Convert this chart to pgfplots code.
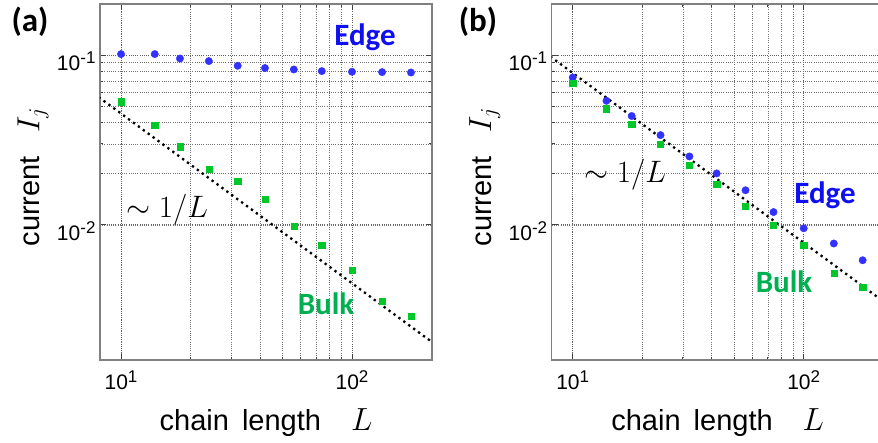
\RequirePackage{fix-cm}
\documentclass[border=0pt]{standalone}
\usepackage{fontspec}
\usepackage{pgfplots}
\pgfplotsset{compat=1.18}
\newfontfamily\arial{Liberation Sans}
\newfontfamily\calibri{Carlito}
\definecolor{edgeblue}{RGB}{15,15,240}
\definecolor{markblue}{RGB}{50,50,255}
\definecolor{bulkgreen}{RGB}{0,176,80}
\definecolor{markgreen}{RGB}{0,200,40}
\newcommand{\tsup}[1]{\raisebox{7pt}{\fontsize{17}{17}\selectfont #1}}

\pgfplotstableread{
L     edge     bulk
10    0.1014   0.0531
14    0.1014   0.0386
18    0.0955   0.0289
24    0.0922   0.0212
32    0.0865   0.0180
42    0.0839   0.0142
56    0.0823   0.00982
74    0.0805   0.00762
100   0.0798   0.00538
135   0.0794   0.00356
180   0.0790   0.00290
}\dataA

\pgfplotstableread{
L     edge     bulk
10    0.0738   0.0681
14    0.0538   0.0483
18    0.0438   0.0391
24    0.0338   0.0299
32    0.0253   0.0224
42    0.0201   0.0174
56    0.0160   0.0129
74    0.0119   0.0100
100   0.00955  0.00759
135   0.00777  0.00519
180   0.00619  0.00430
}\dataB

\begin{document}
\begin{tikzpicture}
\useasboundingbox (0,0) rectangle (878pt,442pt);

\begin{loglogaxis}[
  at={(100pt,82pt)}, anchor=south west,
  scale only axis, width=332pt, height=356pt,
  xmin=8.11, xmax=222, ymin=0.0016, ymax=0.2,
  xtick={10,100}, xticklabels={{10\tsup{1}},{10\tsup{2}}},
  ytick={0.01,0.1}, yticklabels={{10\tsup{-2}},{10\tsup{-1}}},
  tick label style={font=\arial\fontsize{21}{23}\selectfont},
  grid=both,
  major grid style={black!62, line width=0.9pt, dash pattern=on 1pt off 1.2pt},
  minor grid style={black!55, line width=0.75pt, dash pattern=on 0.9pt off 1.3pt},
  axis line style={gray, line width=1.5pt},
  tick style={gray!50!black, line width=1pt},
  major tick length=6pt, minor tick length=3pt,
  xticklabel style={yshift=-7pt},
  yticklabel style={xshift=-1pt, yshift=-6pt},
  label style={font=\arial\fontsize{29}{32}\selectfont},
  xlabel={chain\hspace{0.45em}length\hspace{30pt}{\fontsize{32}{34}\selectfont$L$}},
  ylabel={current\hspace{24pt}{\fontsize{32}{34}\selectfont$I_j$}},
  xlabel style={at={(axis description cs:0.5,-0.199)}, anchor=base},
  ylabel style={at={(axis description cs:-0.202,0.514)}, anchor=center},
  /pgf/number format/assume math mode=true
]
\addplot[black, line width=2.3pt, dash pattern=on 2.3pt off 3.8pt] coordinates {(8,0.0566) (230,0.00197)};
\addplot[only marks, mark=*, mark size=3.7pt, markblue, mark options={draw=markblue, fill=markblue}] table[x=L, y=edge] {\dataA};
\addplot[only marks, mark=square*, mark size=3.1pt, markgreen, mark options={draw=markgreen, fill=markgreen}] table[x=L, y=bulk] {\dataA};
\end{loglogaxis}

\begin{loglogaxis}[
  at={(551.7pt,82pt)}, anchor=south west,
  scale only axis, width=332pt, height=356pt,
  xmin=8.11, xmax=222, ymin=0.0016, ymax=0.2,
  xtick={10,100}, xticklabels={{10\tsup{1}},{10\tsup{2}}},
  ytick={0.01,0.1}, yticklabels={{10\tsup{-2}},{10\tsup{-1}}},
  tick label style={font=\arial\fontsize{21}{23}\selectfont},
  grid=both,
  major grid style={black!62, line width=0.9pt, dash pattern=on 1pt off 1.2pt},
  minor grid style={black!55, line width=0.75pt, dash pattern=on 0.9pt off 1.3pt},
  axis line style={gray, line width=1.5pt},
  tick style={gray!50!black, line width=1pt},
  major tick length=6pt, minor tick length=3pt,
  xticklabel style={yshift=-7pt},
  yticklabel style={xshift=-1pt, yshift=-6pt},
  label style={font=\arial\fontsize{29}{32}\selectfont},
  xlabel={chain\hspace{0.45em}length\hspace{30pt}{\fontsize{32}{34}\selectfont$L$}},
  ylabel={current\hspace{24pt}{\fontsize{32}{34}\selectfont$I_j$}},
  xlabel style={at={(axis description cs:0.5,-0.199)}, anchor=base},
  ylabel style={at={(axis description cs:-0.202,0.514)}, anchor=center},
  /pgf/number format/assume math mode=true
]
\addplot[black, line width=2.3pt, dash pattern=on 2.3pt off 3.8pt] coordinates {(8,0.0981) (230,0.00341)};
\addplot[only marks, mark=*, mark size=3.7pt, markblue, mark options={draw=markblue, fill=markblue}] table[x=L, y=edge] {\dataB};
\addplot[only marks, mark=square*, mark size=3.1pt, markgreen, mark options={draw=markgreen, fill=markgreen}] table[x=L, y=bulk] {\dataB};
\end{loglogaxis}

\node[font=\calibri\bfseries\fontsize{33}{35}\selectfont] at (30pt,420pt) {(a)};
\node[font=\calibri\bfseries\fontsize{33}{35}\selectfont] at (478pt,420pt) {(b)};
\node[font=\calibri\bfseries\fontsize{31}{33}\selectfont, text=edgeblue] at (365pt,405pt) {Edge};
\node[font=\calibri\bfseries\fontsize{31}{33}\selectfont, text=bulkgreen] at (326pt,138pt) {Bulk};
\node[font=\calibri\bfseries\fontsize{31}{33}\selectfont, text=edgeblue] at (825pt,247pt) {Edge};
\node[font=\calibri\bfseries\fontsize{31}{33}\selectfont, text=bulkgreen] at (784pt,160pt) {Bulk};
\node[font=\fontsize{31}{33}\selectfont] at (167pt,232pt) {$\sim 1/L$};
\node[font=\fontsize{31}{33}\selectfont] at (625pt,267pt) {$\sim 1/L$};
\end{tikzpicture}
\end{document}
